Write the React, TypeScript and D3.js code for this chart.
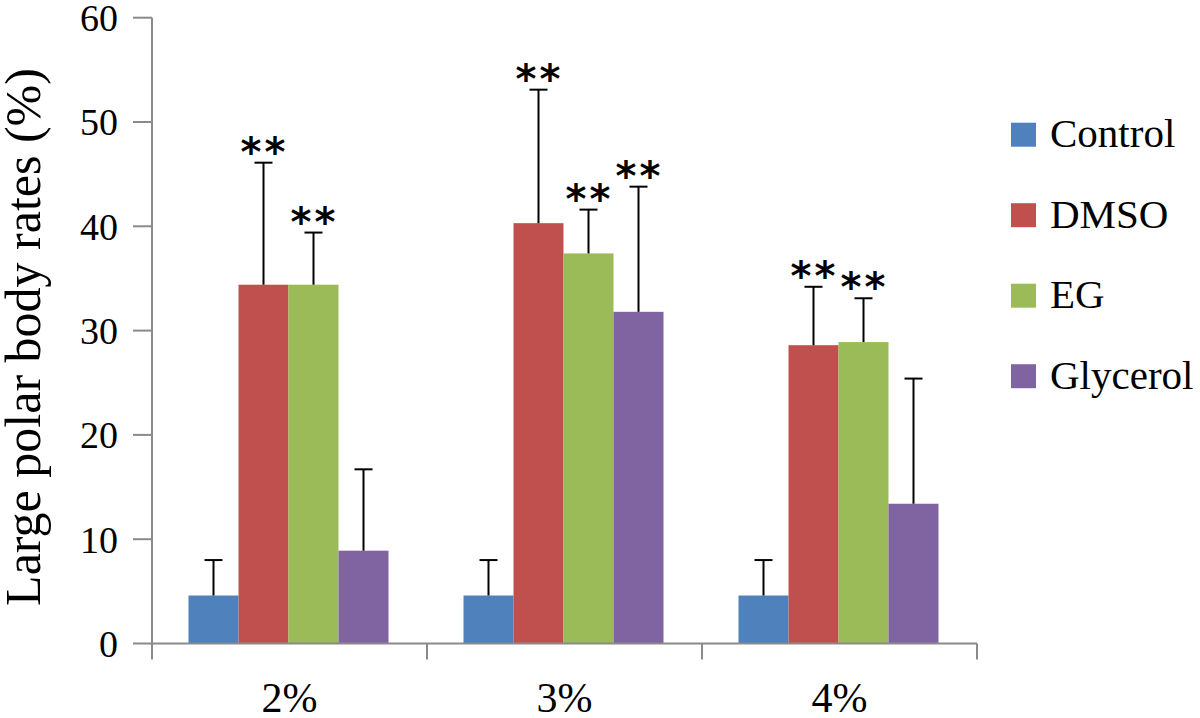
import * as d3 from 'd3';

// concentrations on the x axis
const categories = ['2%', '3%', '4%'];
const seriesNames = ['Control', 'DMSO', 'EG', 'Glycerol'];
const seriesColors = ['#4F81BD', '#C0504D', '#9BBB59', '#8064A2'];

// mean values per series (one per category)
const controlValues = [4.6, 4.6, 4.6];
const dmsoValues = [34.4, 40.3, 28.6];
const egValues = [34.4, 37.4, 28.9];
const glycerolValues = [8.9, 31.8, 13.4];

// upper error (SD) per series
const controlErrors = [3.4, 3.4, 3.4];
const dmsoErrors = [11.7, 12.8, 5.6];
const egErrors = [5.0, 4.2, 4.2];
const glycerolErrors = [7.8, 12.0, 12.0];

// significance marks (** above the error bar)
const controlSig = [false, false, false];
const dmsoSig = [true, true, true];
const egSig = [true, true, true];
const glycerolSig = [false, true, false];

const yTicks = [0, 10, 20, 30, 40, 50, 60];

const App = () => {
  const width = 1200;
  const height = 718;
  const axisLeft = 152;
  const axisRight = 977;
  const axisBottom = 643.5;
  const axisTop = 17.7;

  const values = [controlValues, dmsoValues, egValues, glycerolValues];
  const errors = [controlErrors, dmsoErrors, egErrors, glycerolErrors];
  const sig = [controlSig, dmsoSig, egSig, glycerolSig];

  const x0 = d3.scaleBand().domain(categories).range([axisLeft, axisRight]).padding(0);
  const x1 = d3.scaleBand().domain(seriesNames).range([36.5, 236.5]).padding(0);
  const y = d3.scaleLinear().domain([0, 60]).range([axisBottom, axisTop]);

  const axisColor = '#8a8a8a';
  const serif = '"Liberation Serif", "Times New Roman", serif';

  // group boundaries for x tick marks
  const boundaries = categories.map(c => x0(c) as number).concat([axisRight]);

  return (
    <svg width={width} height={height} style={{ position: 'absolute', left: 0, top: 0, background: '#fff' }}>
      {/* bars */}
      {categories.map((cat, ci) => (
        <g key={cat} transform={`translate(${x0(cat)},0)`}>
          {seriesNames.map((s, si) => (
            <rect
              key={s}
              x={x1(s)}
              y={y(values[si][ci])}
              width={x1.bandwidth()}
              height={y(0) - y(values[si][ci])}
              fill={seriesColors[si]}
            />
          ))}
        </g>
      ))}

      {/* error bars and stars */}
      {categories.map((cat, ci) => (
        <g key={cat + '-err'} transform={`translate(${x0(cat)},0)`}>
          {seriesNames.map((s, si) => {
            const cx = (x1(s) as number) + x1.bandwidth() / 2;
            const top = y(values[si][ci] + errors[si][ci]);
            return (
              <g key={s}>
                <line x1={cx} x2={cx} y1={y(values[si][ci])} y2={top} stroke="#000" strokeWidth={2} />
                <line x1={cx - 9} x2={cx + 9} y1={top} y2={top} stroke="#000" strokeWidth={2} />
                {sig[si][ci] && (
                  <text
                    x={cx + 1}
                    y={top + 3}
                    textAnchor="middle"
                    fontFamily='"DejaVu Sans", sans-serif'
                    fontWeight="bold"
                    fontSize={40}
                    letterSpacing={3}
                    fill="#000"
                  >
                    **
                  </text>
                )}
              </g>
            );
          })}
        </g>
      ))}

      {/* y axis */}
      <line x1={axisLeft} x2={axisLeft} y1={axisTop} y2={axisBottom} stroke={axisColor} strokeWidth={2} />
      {yTicks.map(t => (
        <g key={t}>
          <line x1={axisLeft - 19} x2={axisLeft} y1={y(t)} y2={y(t)} stroke={axisColor} strokeWidth={2} />
          <text x={118} y={y(t)} dy="0.35em" textAnchor="end" fontFamily={serif} fontSize={38} fill="#000">
            {t}
          </text>
        </g>
      ))}

      {/* x axis */}
      <line x1={axisLeft} x2={axisRight} y1={axisBottom} y2={axisBottom} stroke={axisColor} strokeWidth={2} />
      {boundaries.map((b, i) => (
        <line key={i} x1={b} x2={b} y1={axisBottom} y2={axisBottom + 16} stroke={axisColor} strokeWidth={2} />
      ))}
      {categories.map(cat => (
        <text
          key={cat}
          x={(x0(cat) as number) + x0.bandwidth() / 2}
          y={712}
          textAnchor="middle"
          fontFamily={serif}
          fontSize={42}
          fill="#000"
        >
          {cat}
        </text>
      ))}

      {/* y axis title */}
      <text
        transform={`translate(40,337) rotate(-90)`}
        textAnchor="middle"
        fontFamily={serif}
        fontSize={50}
        fill="#000"
      >
        Large polar body rates (%)
      </text>

      {/* legend */}
      {seriesNames.map((s, i) => (
        <g key={s} transform={`translate(1011,${122.7 + i * 80.5})`}>
          <rect width={25} height={24} fill={seriesColors[i]} />
          <text x={39} y={24.6} fontFamily={serif} fontSize={41} fill="#000">
            {s}
          </text>
        </g>
      ))}
    </svg>
  );
};

export default App;
